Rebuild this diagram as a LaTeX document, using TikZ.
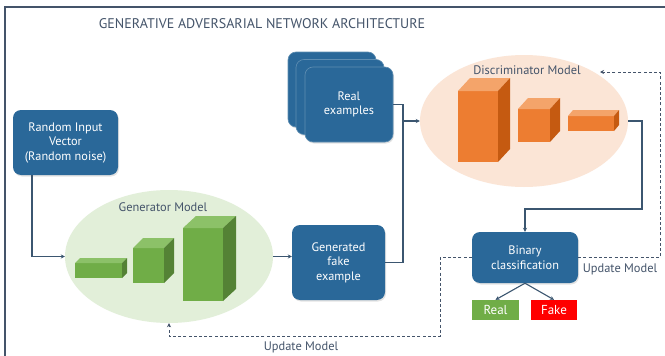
\documentclass[tikz,border=0pt]{standalone}
\usepackage{fontspec}
\setmainfont{PT Sans}
\usetikzlibrary{shapes.geometric,arrows.meta,shadows}
\definecolor{gblue}{HTML}{2A6899}
\definecolor{gline}{HTML}{3B5670}
\definecolor{gtext}{HTML}{44546A}
\definecolor{gellg}{HTML}{E2EFD9}
\definecolor{gello}{HTML}{FBE5D6}
\definecolor{gf}{HTML}{70AD47}
\definecolor{gt}{HTML}{8CC168}
\definecolor{gs}{HTML}{548235}
\definecolor{of}{HTML}{ED7D31}
\definecolor{ot}{HTML}{F4A46A}
\definecolor{os}{HTML}{C55A11}
\newcommand\gcube[9]{%
  \fill[#7] (#1,#2) rectangle ++(#3,#4);
  \fill[#8] (#1,#2) -- ++(#5,-#6) -- ++(#3,0) -- ++(-#5,#6) -- cycle;
  \fill[#9] (#1+#3,#2) -- ++(#5,-#6) -- ++(0,#4) -- ++(-#5,#6) -- cycle;}
\tikzset{
  bluebox/.style={rectangle, rounded corners=8pt, fill=gblue, text=white, align=center,
    font=\fontsize{12.3}{14.5}\selectfont, inner sep=0pt,
    drop shadow={opacity=0.22, shadow xshift=1pt, shadow yshift=-1.5pt}},
  card/.style={bluebox, draw=gblue!75!white, line width=0.6pt, minimum width=88pt, minimum height=75pt},
  outbox/.style={rectangle, text=white, font=\fontsize{13}{15}\selectfont, inner sep=0pt},
  ell/.style={ellipse, inner sep=0pt},
  lbl/.style={text=gtext, font=\fontsize{12.4}{14}\selectfont, inner sep=0pt},
  conn/.style={draw=gline, line width=1.1pt, -{Stealth[length=4pt,width=4pt]}},
  plain/.style={draw=gline, line width=1.1pt},
  dconn/.style={draw=gtext, line width=1pt, dash pattern=on 3pt off 2.2pt, -{Stealth[length=4pt,width=4pt]}},
}
\begin{document}
\begin{tikzpicture}[x=1pt,y=-1pt]
\useasboundingbox (0,0) rectangle (665,356);
\fill[white] (0,0) rectangle (665,356);
\draw[gtext, line width=1.5pt] (5,360) -- (5,7) -- (670,7);
\node[text=gtext, font=\fontsize{14}{16}\selectfont] (title) at (262,24) {GENERATIVE ADVERSARIAL NETWORK ARCHITECTURE};

% ellipses
\node[ell, fill=gellg, minimum width=208pt, minimum height=133pt] (gen) at (169,256.5) {};
\node[ell, fill=gello, minimum width=208pt, minimum height=132pt] (disc) at (524,121) {};
\node[lbl] (genl) at (163,207) {Generator Model};
\node[lbl] (discl) at (527,70) {Discriminator Model};

% blocks
\gcube{75}{263}{47}{15}{5}{5}{gf}{gt}{gs}
\gcube{133}{248}{31}{35}{10}{10}{gf}{gt}{gs}
\gcube{183}{228}{40}{73}{13}{12}{gf}{gt}{gs}
\gcube{458}{91}{40}{71}{12}{13}{of}{ot}{os}
\gcube{518}{109}{32}{33}{10}{11}{of}{ot}{os}
\gcube{568}{116}{46}{15}{5}{6}{of}{ot}{os}

% boxes
\node[bluebox, minimum width=105pt, minimum height=65pt] (rand) at (65.5,142.5) {Random Input\\Vector\\(Random noise)};
\node[bluebox, minimum width=93pt, minimum height=75pt] (genbox) at (338.5,262.5) {Generated\\fake\\example};
\node[card] (real3) at (332,89.5) {};
\node[card] (real2) at (340,97) {};
\node[card] (real1) at (349,104.5) {Real\\examples};
\node[bluebox, minimum width=106pt, minimum height=51pt] (bin) at (525,257.5) {Binary\\classification};
\node[outbox, fill=gf, minimum width=47pt, minimum height=20pt] (realout) at (495.5,310) {Real};
\node[outbox, fill=red, minimum width=46pt, minimum height=20pt] (fakeout) at (554,310) {Fake};

% coordinates
\coordinate (r1) at (32,0);
\coordinate (j) at (403,0);
\coordinate (k) at (642,209);
\coordinate (d1) at (660,72);
\coordinate (dend) at (600,72);
\coordinate (d2) at (440,336);

% connectors
\draw[conn] (rand.south -| r1) |- (gen.west);
\draw[conn] (gen.east) -- (genbox.west |- gen.east);
\draw[plain] (real1.east) -| (disc.west -| j);
\draw[conn] (genbox.east) -| (disc.west -| j) -- (disc.west);
\draw[conn] (disc.east) -| (k) -| (bin.north);
\draw[conn] (bin.south) -- (realout.north);
\draw[conn] (bin.south) -- (fakeout.north);
\draw[dconn] (bin.east) -| (d1) -- (dend);
\draw[dconn] (bin.west) -| (d2) -| (gen.south);
\node[lbl] (upd1) at (620,269) {Update Model};
\node[lbl] (upd2) at (301,347) {Update Model};
\end{tikzpicture}
\end{document}
